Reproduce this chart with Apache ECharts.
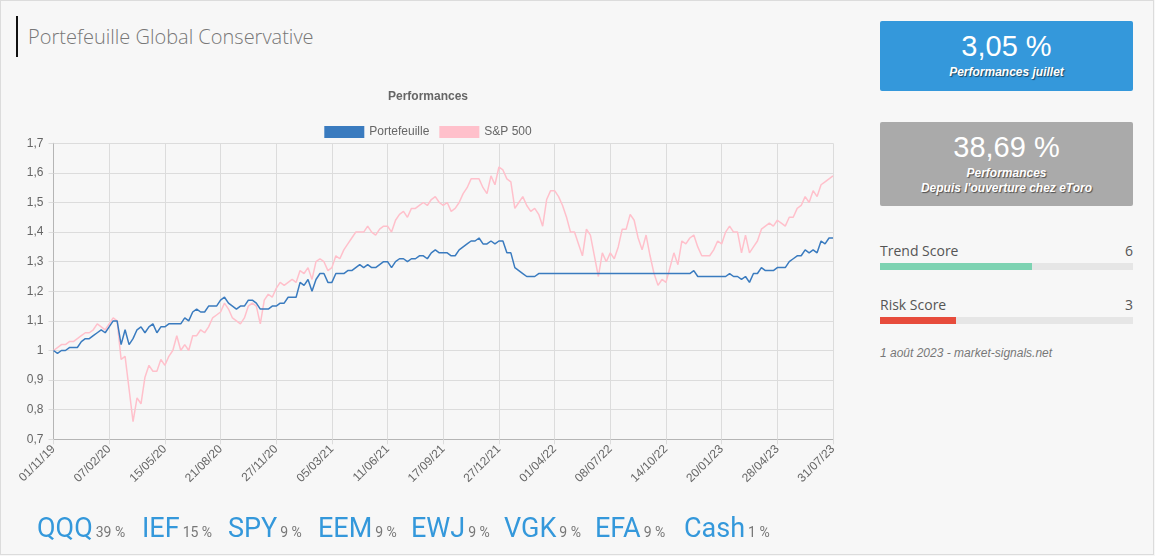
<!DOCTYPE html>
<html><head><meta charset="utf-8">
<script src="https://cdn.jsdelivr.net/npm/echarts@6/dist/echarts.min.js"></script>
<style>
html,body{margin:0;padding:0;background:#f7f7f7;width:1155px;height:556px;overflow:hidden;}
#frame{position:absolute;left:0;top:0;width:1154px;height:555px;box-sizing:border-box;border:1px solid #dcdcdc;pointer-events:none;}
#bar{position:absolute;left:16px;top:16px;width:2px;height:41px;background:#111;}
#title{position:absolute;left:28px;top:25px;line-height:24px;font-family:"Open Sans",sans-serif;font-weight:300;font-size:20px;color:#777;white-space:nowrap;}
#chart{position:absolute;left:0;top:0;width:856px;height:556px;}
.box{position:absolute;left:880px;width:253px;border-radius:2px;color:#fff;font-family:"Liberation Sans",Arial,sans-serif;text-align:center;}
.big{position:absolute;left:0;width:100%;font-size:29px;line-height:29px;}
.sub{position:absolute;left:0;width:100%;font-size:12px;line-height:15px;font-weight:bold;font-style:italic;text-shadow:1px 1px 1px rgba(0,0,0,0.55);}
.lbl{position:absolute;left:880px;width:253px;font-family:"Open Sans",sans-serif;font-size:14px;line-height:19px;color:#555;}
.lbl span{position:absolute;right:0;top:0;}
.track{position:absolute;left:880px;width:253px;height:7px;background:#e6e6e6;}
.fill{position:absolute;left:0;top:0;height:7px;}
#date{position:absolute;left:880px;top:346px;font-family:"Liberation Sans",Arial,sans-serif;font-style:italic;font-size:12px;line-height:14px;color:#777;white-space:nowrap;}
.tk{position:absolute;top:512px;line-height:32px;white-space:nowrap;font-family:Roboto,sans-serif;}
.tk b{font-weight:normal;font-size:27px;color:#3498db;}
.tk i{font-style:normal;font-size:14px;color:#777;margin-left:3px;}
</style></head><body>
<div id="bar"></div>
<div id="title">Portefeuille Global Conservative</div>
<div id="chart"></div>

<div class="box" style="top:21px;height:70px;background:#3498db;">
  <div class="big" style="top:11px;">3,05 %</div>
  <div class="sub" style="top:44px;">Performances juillet</div>
</div>
<div class="box" style="top:122px;height:84px;background:#aaaaaa;">
  <div class="big" style="top:11px;">38,69 %</div>
  <div class="sub" style="top:44px;">Performances<br>Depuis l'ouverture chez eToro</div>
</div>

<div class="lbl" style="top:241px;">Trend Score<span>6</span></div>
<div class="track" style="top:263px;"><div class="fill" style="width:152px;background:#7dd3b2;"></div></div>
<div class="lbl" style="top:295px;">Risk Score<span>3</span></div>
<div class="track" style="top:317px;"><div class="fill" style="width:76px;background:#e74c3c;"></div></div>
<div id="date">1 août 2023 - market-signals.net</div>

<div id="tickers"></div>
<div id="frame"></div>

<script>
// ---------- data ----------
const startDate = '2019-11-01';
const weekCount = 197;
const dateOverrides = {112: '27/12/21', 196: '31/07/23'};
const tickIndices = [0,14,28,42,56,70,84,98,112,126,140,154,168,182,196];

const portefeuille = [
1.00,0.99,1.00,1.00,1.01,1.01,1.01,1.03,1.04,1.04,
1.05,1.06,1.07,1.06,1.08,1.10,1.10,1.02,1.07,1.02,
1.04,1.07,1.08,1.06,1.08,1.09,1.06,1.08,1.08,1.09,
1.09,1.09,1.09,1.11,1.10,1.13,1.14,1.13,1.13,1.15,
1.15,1.15,1.17,1.18,1.16,1.15,1.14,1.15,1.15,1.17,
1.17,1.16,1.14,1.14,1.14,1.15,1.15,1.16,1.16,1.18,
1.18,1.18,1.23,1.22,1.24,1.20,1.24,1.26,1.26,1.23,
1.23,1.26,1.26,1.26,1.27,1.27,1.28,1.29,1.28,1.29,
1.28,1.28,1.29,1.30,1.30,1.28,1.30,1.31,1.31,1.30,
1.31,1.31,1.32,1.32,1.31,1.33,1.34,1.33,1.33,1.33,
1.32,1.32,1.34,1.35,1.36,1.37,1.37,1.38,1.36,1.36,
1.37,1.36,1.37,1.37,1.33,1.33,1.28,1.27,1.26,1.25,
1.25,1.25,1.26,1.26,1.26,1.26,1.26,1.26,1.26,1.26,
1.26,1.26,1.26,1.26,1.26,1.26,1.26,1.26,1.26,1.26,
1.26,1.26,1.26,1.26,1.26,1.26,1.26,1.26,1.26,1.26,
1.26,1.26,1.26,1.26,1.26,1.26,1.26,1.26,1.26,1.26,
1.26,1.27,1.25,1.25,1.25,1.25,1.25,1.25,1.25,1.25,
1.26,1.25,1.25,1.24,1.25,1.23,1.26,1.26,1.28,1.27,
1.27,1.27,1.28,1.28,1.28,1.30,1.31,1.32,1.32,1.34,
1.33,1.34,1.33,1.37,1.36,1.38,1.38];

const sp500 = [
1.00,1.01,1.02,1.02,1.03,1.03,1.04,1.05,1.06,1.06,
1.07,1.09,1.08,1.07,1.09,1.11,1.10,0.97,0.98,0.87,
0.76,0.84,0.82,0.91,0.95,0.93,0.93,0.97,0.95,0.98,
1.00,1.05,1.00,1.02,1.00,1.05,1.05,1.07,1.06,1.08,
1.11,1.12,1.13,1.16,1.14,1.11,1.10,1.09,1.11,1.15,
1.16,1.15,1.09,1.17,1.19,1.18,1.21,1.23,1.22,1.23,
1.24,1.23,1.27,1.26,1.28,1.24,1.30,1.31,1.30,1.27,
1.28,1.32,1.31,1.34,1.36,1.38,1.40,1.40,1.40,1.42,
1.40,1.39,1.41,1.42,1.42,1.40,1.44,1.46,1.47,1.45,
1.48,1.48,1.49,1.50,1.49,1.51,1.52,1.50,1.49,1.50,
1.47,1.48,1.50,1.53,1.55,1.58,1.58,1.58,1.55,1.53,
1.59,1.56,1.62,1.61,1.58,1.57,1.48,1.50,1.52,1.49,
1.47,1.48,1.46,1.42,1.51,1.54,1.54,1.52,1.49,1.45,
1.40,1.40,1.36,1.32,1.41,1.39,1.32,1.25,1.33,1.30,
1.33,1.31,1.35,1.41,1.41,1.46,1.44,1.38,1.34,1.39,
1.32,1.26,1.22,1.24,1.23,1.28,1.33,1.29,1.37,1.36,
1.38,1.39,1.35,1.32,1.32,1.32,1.34,1.37,1.36,1.40,
1.42,1.40,1.40,1.33,1.39,1.33,1.35,1.37,1.41,1.42,
1.43,1.42,1.44,1.43,1.42,1.45,1.45,1.48,1.49,1.52,
1.50,1.54,1.52,1.56,1.57,1.58,1.59];

const tickers = ['QQQ','IEF','SPY','EEM','EWJ','VGK','EFA','Cash'];
const weights = ['39 %','15 %','9 %','9 %','9 %','9 %','9 %','1 %'];
const tickerX = [37,142,228,318,411,504,595,684];

// ---------- categories ----------
function pad(n){return (n<10?'0':'')+n;}
const categories = [];
const d0 = new Date(startDate + 'T00:00:00Z');
for (let i = 0; i < weekCount; i++) {
  const d = new Date(d0.getTime() + i*7*86400000);
  categories.push(dateOverrides[i] || (pad(d.getUTCDate())+'/'+pad(d.getUTCMonth()+1)+'/'+String(d.getUTCFullYear()).slice(2)));
}
const tickSet = new Set(tickIndices);

// ---------- tickers ----------
const tk = document.getElementById('tickers');
tickers.forEach((t, k) => {
  const s = document.createElement('div');
  s.className = 'tk';
  s.style.left = tickerX[k] + 'px';
  s.innerHTML = '<b>' + t + '</b><i>' + weights[k] + '</i>';
  tk.appendChild(s);
});

// ---------- chart ----------
const chart = echarts.init(document.getElementById('chart'), null, {renderer:'canvas'});
const font = '"Liberation Sans", Helvetica, Arial, sans-serif';
chart.setOption({
  animation: false,
  backgroundColor: 'transparent',
  textStyle: {fontFamily: font},
  title: {
    text: 'Performances', left: 'center', top: 86,
    textStyle: {fontSize: 12, fontWeight: 'bold', color: '#666', fontFamily: font}
  },
  legend: {
    data: ['Portefeuille', 'S&P 500'], top: 121, left: 'center',
    itemWidth: 40, itemHeight: 12, itemGap: 10, icon: 'rect',
    textStyle: {fontSize: 12, color: '#666', fontFamily: font}
  },
  grid: {left: 53.5, right: 856 - 833, top: 143.3, bottom: 556 - 439.3},
  xAxis: {
    type: 'category', boundaryGap: false, data: categories,
    axisLine: {lineStyle: {color: '#b5b5b5', width: 1}},
    axisTick: {show: true, length: 5, interval: (i) => tickSet.has(i), lineStyle: {color: '#dcdcdc'}},
    axisLabel: {interval: (i) => tickSet.has(i), rotate: 45, margin: 8, fontSize: 12, color: '#666', fontFamily: font},
    splitLine: {show: true, interval: (i) => tickSet.has(i), lineStyle: {color: '#dcdcdc', width: 1}}
  },
  yAxis: {
    type: 'value', min: 0.7, max: 1.7, interval: 0.1,
    axisLine: {show: true, lineStyle: {color: '#b5b5b5', width: 1}},
    axisTick: {show: true, length: 5, lineStyle: {color: '#dcdcdc'}},
    axisLabel: {margin: 10, fontSize: 12, color: '#666', fontFamily: font,
      formatter: v => String(Math.round(v*10)/10).replace('.', ',')},
    splitLine: {lineStyle: {color: '#dcdcdc', width: 1}}
  },
  series: [
    {name: 'S&P 500', type: 'line', data: sp500, showSymbol: false, symbol: 'none',
     lineStyle: {color: '#ffc0cb', width: 1.5}, itemStyle: {color: '#ffc0cb'}},
    {name: 'Portefeuille', type: 'line', data: portefeuille, showSymbol: false, symbol: 'none',
     lineStyle: {color: '#3a7bbf', width: 1.5}, itemStyle: {color: '#3a7bbf'}}
  ]
});
</script>
</body></html>
